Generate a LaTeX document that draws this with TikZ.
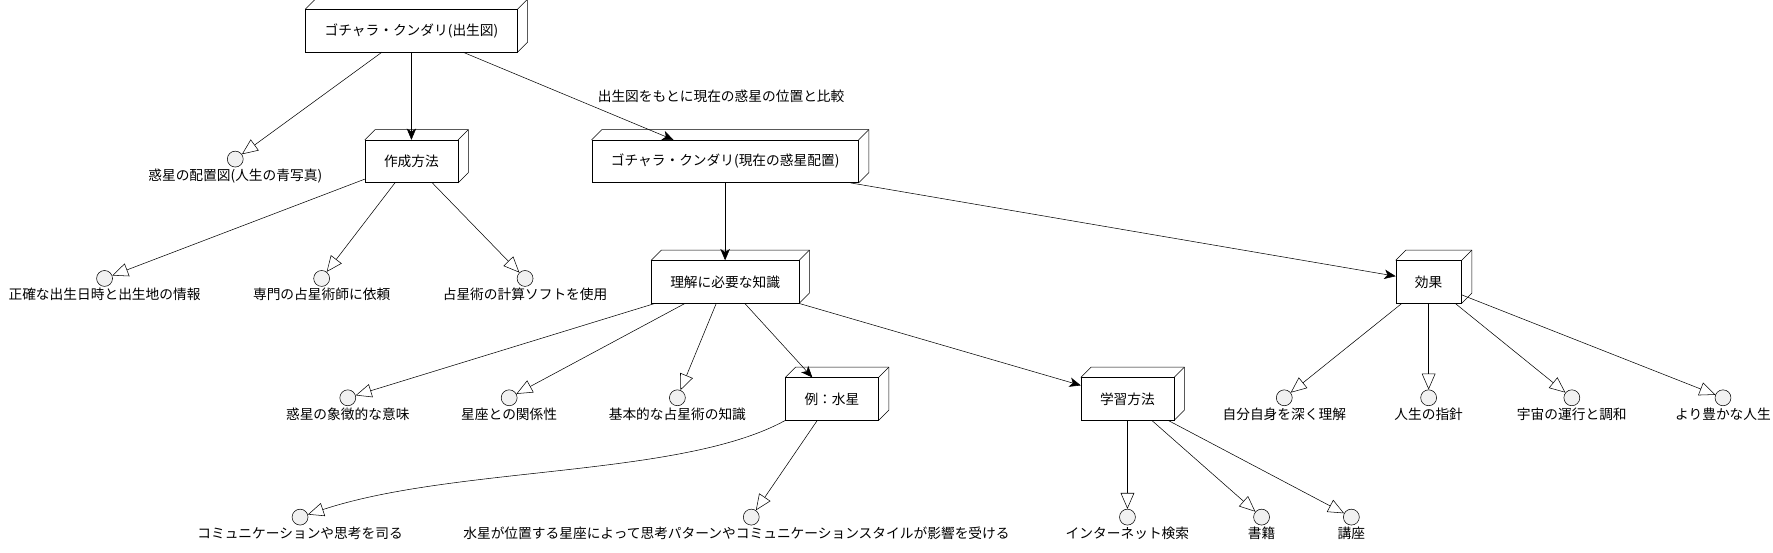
\documentclass[tikz,border=0pt]{standalone}
\usepackage{fontspec}
\setmainfont{Noto Sans CJK JP}
\usetikzlibrary{arrows.meta, calc}
\definecolor{ifill}{HTML}{F1F1F1}

\begin{document}
\begin{tikzpicture}[x=0.03cm, y=-0.03cm, font=\fontsize{10.3}{12}\selectfont,
        box/.style={draw, fill=white, minimum height=1.12cm, inner xsep=0.5cm},
        iface/.style={draw, fill=ifill, circle, minimum size=0.42cm, inner sep=0pt},
        lbl/.style={anchor=north, inner sep=1pt},
        uses/.style={-{Triangle[open, length=0.42cm, width=0.36cm]}},
        flow/.style={-{Stealth[length=0.3cm, width=0.25cm, inset=0.08cm]}}]
        \useasboundingbox (0, 0) rectangle (1560, 486);

        % boxes
        \node[box] (birth) at (362, 27) {ゴチャラ・クンダリ(出生図)};
        \node[box] (make) at (362, 142) {作成方法};
        \node[box] (now) at (638, 142) {ゴチャラ・クンダリ(現在の惑星配置)};
        \node[box] (know) at (638, 248) {理解に必要な知識};
        \node[box] (effect) at (1257, 248) {効果};
        \node[box] (mercury) at (732, 351) {例：水星};
        \node[box] (learn) at (992, 351) {学習方法};

        \foreach \n in {birth, make, now, know, effect, mercury, learn} {
            \draw (\n.north west) -- ++(9, -9) -| ($(\n.south east)+(9, -9)$) -- (\n.south east);
            \draw (\n.north east) -- ++(9, -9);
        }

        % interfaces
        \node[iface] (map) at (207, 140) {};
        \node[lbl] at (map.south) {惑星の配置図(人生の青写真)};
        \node[iface] (data) at (92, 245) {};
        \node[lbl] at (data.south) {正確な出生日時と出生地の情報};
        \node[iface] (expert) at (283, 245) {};
        \node[lbl] at (expert.south) {専門の占星術師に依頼};
        \node[iface] (soft) at (462, 245) {};
        \node[lbl] at (soft.south) {占星術の計算ソフトを使用};
        \node[iface] (symbol) at (306, 350) {};
        \node[lbl] at (symbol.south) {惑星の象徴的な意味};
        \node[iface] (sign) at (448, 350) {};
        \node[lbl] at (sign.south) {星座との関係性};
        \node[iface] (basic) at (596, 350) {};
        \node[lbl] at (basic.south) {基本的な占星術の知識};
        \node[iface] (self) at (1130, 350) {};
        \node[lbl] at (self.south) {自分自身を深く理解};
        \node[iface] (guide) at (1257, 350) {};
        \node[lbl] at (guide.south) {人生の指針};
        \node[iface] (cosmos) at (1383, 350) {};
        \node[lbl] at (cosmos.south) {宇宙の運行と調和};
        \node[iface] (rich) at (1516, 350) {};
        \node[lbl] at (rich.south) {より豊かな人生};
        \node[iface] (comm) at (264, 455) {};
        \node[lbl] at (comm.south) {コミュニケーションや思考を司る};
        \node[iface] (pattern) at (661, 455) {};
        \node[lbl] at ($(pattern.south)+(-13, 0)$) {水星が位置する星座によって思考パターンやコミュニケーションスタイルが影響を受ける};
        \node[iface] (web) at (992, 455) {};
        \node[lbl] at (web.south) {インターネット検索};
        \node[iface] (book) at (1110, 455) {};
        \node[lbl] at (book.south) {書籍};
        \node[iface] (course) at (1189, 455) {};
        \node[lbl] at (course.south) {講座};

        % connectors
        \draw[uses] (birth) -- (map);
        \draw[flow] (birth) -- (make);
        \draw[flow] (birth) -- (now) node[pos=0.62, anchor=south west, inner sep=3pt] {出生図をもとに現在の惑星の位置と比較};
        \foreach \t in {data, expert, soft} {
            \draw[uses] (make) -- (\t);
        }
        \draw[flow] (now) -- (know);
        \draw[flow] (now) -- (effect);
        \foreach \t in {symbol, sign, basic} {
            \draw[uses] (know) -- (\t);
        }
        \draw[flow] (know) -- (mercury);
        \draw[flow] (know) -- (learn);
        \foreach \t in {self, guide, cosmos, rich} {
            \draw[uses] (effect) -- (\t);
        }
        \draw[uses] (mercury.south west) .. controls (600, 420) and (400, 410) .. (comm);
        \draw[uses] (mercury) -- (pattern);
        \foreach \t in {web, book, course} {
            \draw[uses] (learn) -- (\t);
        }
\end{tikzpicture}
\end{document}
